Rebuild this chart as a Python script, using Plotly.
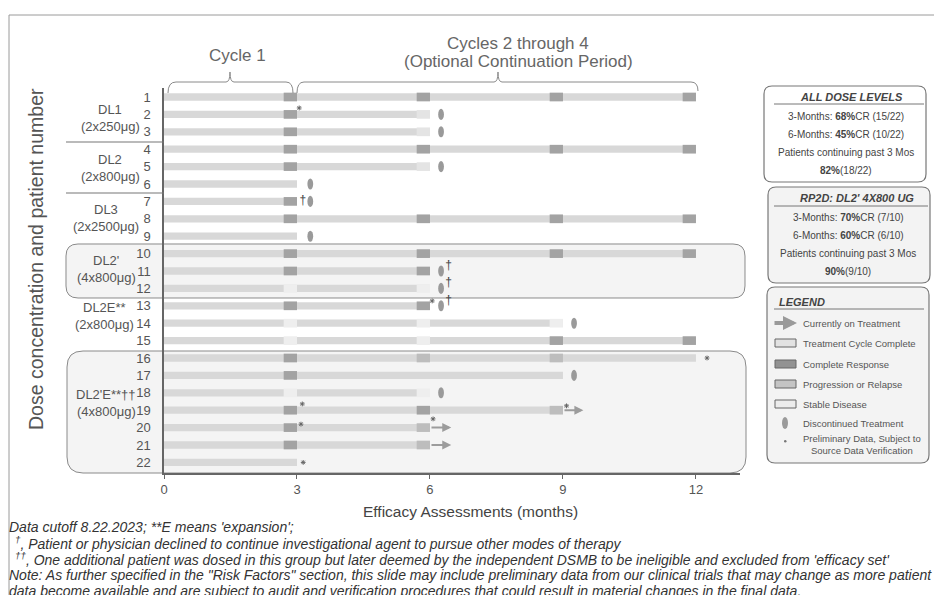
import plotly.graph_objects as go

# ---------------- data ----------------
rows = list(range(1, 23))
patient_labels = [str(r) for r in rows]
treatment_end = [12, 6, 6, 12, 6, 3, 3, 12, 3, 12, 6, 6, 6, 9, 12, 12, 9, 6, 9, 6, 6, 3]
assessment_months = [3, 6, 9, 12]
response_m3 = ['CR', 'CR', 'CR', 'CR', 'CR', '', 'CR', 'CR', '', 'CR', 'CR', 'SD', 'CR', 'SD', 'SD', 'CR', 'CR', 'SD', 'CR', 'CR', 'CR', '']
response_m6 = ['CR', 'TC', 'TC', 'CR', 'TC', '', '', 'CR', '', 'CR', 'CR', 'SD', 'CR', 'SD', 'SD', 'PD', '', 'SD', 'CR', 'PD', 'PD', '']
response_m9 = ['CR', '', '', 'CR', '', '', '', 'CR', '', 'CR', '', '', '', 'SD', 'CR', 'PD', '', '', 'PD', '', '', '']
response_m12 = ['CR', '', '', 'CR', '', '', '', 'CR', '', 'CR', '', '', '', '', 'CR', '', '', '', '', '', '', '']
responses = {3: response_m3, 6: response_m6, 9: response_m9, 12: response_m12}

disc_rows = [2, 3, 5, 6, 7, 9, 11, 12, 13, 14, 17, 18]
disc_month = [6.25, 6.25, 6.25, 3.3, 3.3, 3.3, 6.25, 6.25, 6.25, 9.25, 9.25, 6.25]

dagger_rows = [7, 11, 12, 13]
dagger_month = [3.13, 6.42, 6.42, 6.42]

prelim_rows = [2, 13, 16, 19, 19, 20, 20, 22]
prelim_month = [3.05, 6.05, 12.25, 3.12, 9.08, 3.09, 6.07, 3.14]

ongoing_rows = [19, 20, 21]
ongoing_from = [9, 6, 6]
ongoing_to = [9.46, 6.48, 6.48]

group_names = ["DL1", "DL2", "DL3", "DL2'", "DL2E**", "DL2'E**††"]
group_doses = ["(2x250μg)", "(2x800μg)", "(2x2500μg)", "(4x800μg)", "(2x800μg)", "(4x800μg)"]
x_ticks = [0, 3, 6, 9, 12]

stats_all = ["3-Months: <b>68%</b>CR (15/22)", "6-Months: <b>45%</b>CR (10/22)",
             "Patients continuing past 3 Mos", "<b>82%</b>(18/22)"]
stats_rp2d = ["3-Months: <b>70%</b>CR (7/10)", "6-Months: <b>60%</b>CR (6/10)",
              "Patients continuing past 3 Mos", "<b>90%</b>(9/10)"]
legend_labels = ["Currently on Treatment", "Treatment Cycle Complete", "Complete Response",
                 "Progression or Relapse", "Stable Disease", "Discontinued Treatment",
                 "Preliminary Data, Subject to<br>Source Data Verification"]
footnotes = [
    "<i>Data cutoff 8.22.2023; **E means 'expansion';</i>",
    "<i><sup>†</sup>, Patient or physician declined to continue investigational agent to pursue other modes of therapy</i>",
    "<i><sup>††</sup>, One additional patient was dosed in this group but later deemed by the independent DSMB to be ineligible and excluded from 'efficacy set'</i>",
    "<i>Note: As further specified in the \"Risk Factors\" section, this slide may include preliminary data from our clinical trials that may change as more patient</i>",
    "<i>data become available and are subject to audit and verification procedures that could result in material changes in the final data.</i>",
]

# ---------------- geometry / style ----------------
OFF = 8                      # page body margin of the html page
FW, FH = 942 - OFF, 595 - OFF
L, R, T, B = 164, 740, 88, 473   # plot area in screenshot pixels
PW, PH = R - L, B - T
PX_PER_MONTH = 44.33
ROW0_PX, ROW_STEP = 97.0, 17.4

COL_BAR = '#d8d8d8'
COLS = {'CR': '#a3a3a3', 'PD': '#bdbdbd', 'SD': '#eeeeee', 'TC': '#e4e4e4'}
TXT = '#555555'
FONT = 'Arial, Liberation Sans, sans-serif'


def px(xp):
    return (xp - L) / PW


def py(yp):
    return (B - yp) / PH


def P(xp, yp):
    return f"{px(xp):.5f},{py(yp):.5f}"


def rrect(x0, y0, x1, y1, r):
    return (f"M{P(x0 + r, y0)} L{P(x1 - r, y0)} Q{P(x1, y0)} {P(x1, y0 + r)} "
            f"L{P(x1, y1 - r)} Q{P(x1, y1)} {P(x1 - r, y1)} L{P(x0 + r, y1)} "
            f"Q{P(x0, y1)} {P(x0, y1 - r)} L{P(x0, y0 + r)} Q{P(x0, y0)} {P(x0 + r, y0)} Z")


fig = go.Figure()

# main treatment bars
fig.add_trace(go.Bar(y=rows, x=treatment_end, base=[0] * len(rows), orientation='h',
                     width=0.42, marker=dict(color=COL_BAR, line=dict(width=0)),
                     hoverinfo='skip'))

# assessment blocks
for cat in ['TC', 'SD', 'PD', 'CR']:
    ys, xs, bs = [], [], []
    for m in assessment_months:
        for r, c in zip(rows, responses[m]):
            if c == cat:
                ys.append(r)
                xs.append(0.3)
                bs.append(m - 0.3)
    fig.add_trace(go.Bar(y=ys, x=xs, base=bs, orientation='h', width=0.5,
                         marker=dict(color=COLS[cat], line=dict(width=0)), hoverinfo='skip'))

# preliminary markers
prelim_raise = [0.37, 0.28, 0.0, 0.36, 0.25, 0.2, 0.5, 0.0]
fig.add_trace(go.Scatter(x=prelim_month, y=[r - d for r, d in zip(prelim_rows, prelim_raise)],
                         mode='markers', marker=dict(symbol='asterisk-open', size=4, color='#666',
                                                     line=dict(width=1, color='#666')),
                         hoverinfo='skip'))

# daggers
dagger_raise = [0.0, 0.3, 0.3, 0.3]
fig.add_trace(go.Scatter(x=dagger_month, y=[r - d for r, d in zip(dagger_rows, dagger_raise)],
                         mode='text', text=['†'] * len(dagger_rows),
                         textfont=dict(size=12, color='#444', family=FONT), hoverinfo='skip'))

shapes = []
# group boxes
shapes.append(dict(type='path', xref='paper', yref='paper', layer='below',
                   path=rrect(66, 244, 745, 298, 12), fillcolor='#f4f4f4',
                   line=dict(color='#8a8a8a', width=1)))
shapes.append(dict(type='path', xref='paper', yref='paper', layer='below',
                   path=rrect(67, 351, 746, 473, 16), fillcolor='#f4f4f4',
                   line=dict(color='#8a8a8a', width=1)))
for yy in [142, 193]:
    shapes.append(dict(type='line', xref='paper', yref='paper', x0=px(66), x1=px(164),
                       y0=py(yy), y1=py(yy), line=dict(color='#777', width=1.2)))
# outer frame
shapes.append(dict(type='rect', xref='paper', yref='paper', x0=px(9), y0=py(15),
                   x1=px(960), y1=py(620), line=dict(color='#9a9a9a', width=1)))
# brackets
shapes.append(dict(type='path', xref='paper', yref='paper', line=dict(color='#8a8a8a', width=1),
                   path=(f"M{P(168, 93)} Q{P(168, 82)} {P(176, 82)} L{P(226, 82)} Q{P(230, 82)} {P(230, 72)} "
                         f"Q{P(230, 82)} {P(234, 82)} L{P(286, 82)} Q{P(293, 82)} {P(293, 93)}")))
shapes.append(dict(type='path', xref='paper', yref='paper', line=dict(color='#8a8a8a', width=1),
                   path=(f"M{P(297, 93)} Q{P(297, 82)} {P(304, 82)} L{P(494, 82)} Q{P(498, 82)} {P(498, 72)} "
                         f"Q{P(498, 82)} {P(502, 82)} L{P(691, 82)} Q{P(698, 82)} {P(698, 91)}")))
# discontinued ovals (data coordinates)
for r, m in zip(disc_rows, disc_month):
    shapes.append(dict(type='circle', xref='x', yref='y', x0=m - 0.065, x1=m + 0.065,
                       y0=r - 0.32, y1=r + 0.32, fillcolor='#9a9a9a', line=dict(width=0)))

# right-hand boxes
shapes.append(dict(type='path', xref='paper', yref='paper', path=rrect(764, 86, 926, 182, 8),
                   fillcolor='white', line=dict(color='#777', width=1.2)))
shapes.append(dict(type='path', xref='paper', yref='paper', path=rrect(768, 187, 930, 283, 8),
                   fillcolor='#f3f3f3', line=dict(color='#777', width=1.2)))
shapes.append(dict(type='path', xref='paper', yref='paper', path=rrect(767, 287, 929, 463, 8),
                   fillcolor='#f3f3f3', line=dict(color='#777', width=1.2)))
for (x0, x1, yy) in [(774, 924, 104), (774, 928, 206), (774, 924, 309)]:
    shapes.append(dict(type='line', xref='paper', yref='paper', x0=px(x0), x1=px(x1),
                       y0=py(yy), y1=py(yy), line=dict(color='#777', width=1)))
# legend swatches
sw_y = [343, 364, 384, 404]
sw_col = ['#e2e2e2', '#929292', '#c4c4c4', '#ececec']
for yy, c in zip(sw_y, sw_col):
    shapes.append(dict(type='rect', xref='paper', yref='paper', x0=px(775), x1=px(796),
                       y0=py(yy - 4), y1=py(yy + 4), fillcolor=c, line=dict(color='#666', width=1)))
shapes.append(dict(type='circle', xref='paper', yref='paper', x0=px(782), x1=px(788),
                   y0=py(417), y1=py(429), fillcolor='#9a9a9a', line=dict(width=0)))
shapes.append(dict(type='circle', xref='paper', yref='paper', x0=px(784), x1=px(786.5),
                   y0=py(440), y1=py(442.5), fillcolor='#777', line=dict(width=0)))

annotations = []


def ann(xp, yp, text, size, color=TXT, xanchor='center', yanchor='middle', **kw):
    d = dict(xref='paper', yref='paper', x=px(xp), y=py(yp), text=text, showarrow=False,
             xanchor=xanchor, yanchor=yanchor, font=dict(size=size, color=color, family=FONT))
    d.update(kw)
    annotations.append(d)


# ongoing treatment arrows (data coords)
for r, a, b in zip(ongoing_rows, ongoing_from, ongoing_to):
    annotations.append(dict(xref='x', yref='y', axref='x', ayref='y', x=b, y=r, ax=a, ay=r,
                            text='', showarrow=True, arrowhead=2, arrowsize=0.9,
                            arrowwidth=2, arrowcolor='#9c9c9c'))

# titles
ann(36, 259, "Dose concentration and patient number", 19.5, textangle=-90)
ann(237, 56, "Cycle 1", 17, color='#666')
ann(518, 43, "Cycles 2 through 4", 17, color='#666')
ann(518, 62, "(Optional Continuation Period)", 17, color='#666')
ann(470, 512, "Efficacy Assessments (months)", 15.5, color='#444')

# group labels
label_cy = [117.5, 167.5, 217.5, 269, 315.5, 403]
label_cx = [110, 110, 106, 106, 104, 106]
for name, dose, cy, cx in zip(group_names, group_doses, label_cy, label_cx):
    ann(cx, cy - 8.5, name, 13)
    ann(cx, cy + 8.5, dose, 13)

# stats boxes
ann(851, 97, "<b><i>ALL DOSE LEVELS</i></b>", 11, color='#444')
for yy, t in zip([116, 134, 152, 170], stats_all):
    ann(846, yy, t, 10, color='#444')
ann(857, 198, "<b><i>RP2D: DL2' 4X800 UG</i></b>", 11, color='#444')
for yy, t in zip([217, 235, 253, 271], stats_rp2d):
    ann(848, yy, t, 10, color='#444')
ann(777, 302, "<b><i>LEGEND</i></b>", 11, color='#444', xanchor='left')
leg_y = [323, 343, 364, 384, 404, 423, 444]
for yy, t in zip(leg_y, legend_labels):
    ann(801, yy, t, 9.5, color='#555', xanchor='left')
annotations.append(dict(xref='paper', yref='paper', x=px(797), y=py(323), ax=-24, ay=0,
                        text='', showarrow=True, arrowhead=2, arrowsize=0.7, arrowwidth=4,
                        arrowcolor='#9a9a9a'))

# footnotes
foot_y = [527, 543, 559, 575, 591]
foot_x = [7, 13, 13, 7, 7]
for yy, xx, t in zip(foot_y, foot_x, footnotes):
    ann(xx, yy, t, 14, color='#333', xanchor='left')

fig.update_layout(
    width=FW, height=FH, margin=dict(l=L - OFF, r=942 - R, t=T - OFF, b=595 - B, pad=0),
    paper_bgcolor='white', plot_bgcolor='rgba(0,0,0,0)', showlegend=False,
    barmode='overlay', font=dict(family=FONT, color=TXT),
    shapes=shapes, annotations=annotations,
    xaxis=dict(range=[0, PW / PX_PER_MONTH], tickvals=x_ticks, ticktext=[str(v) for v in x_ticks],
               ticks='outside', ticklen=4, tickcolor='#666', showline=True, linecolor='#666',
               linewidth=1.5, showgrid=False, zeroline=False, tickfont=dict(size=13, color='#555'),
               fixedrange=True),
    yaxis=dict(range=[1 + (B - ROW0_PX) / ROW_STEP, 1 + (T - ROW0_PX) / ROW_STEP],
               tickvals=rows, ticktext=patient_labels, ticks='', showline=True, linecolor='#666',
               linewidth=1.5, showgrid=False, zeroline=False, ticklabelstandoff=9,
               tickfont=dict(size=13, color='#555'), fixedrange=True),
)

fig.write_html("out.html")
